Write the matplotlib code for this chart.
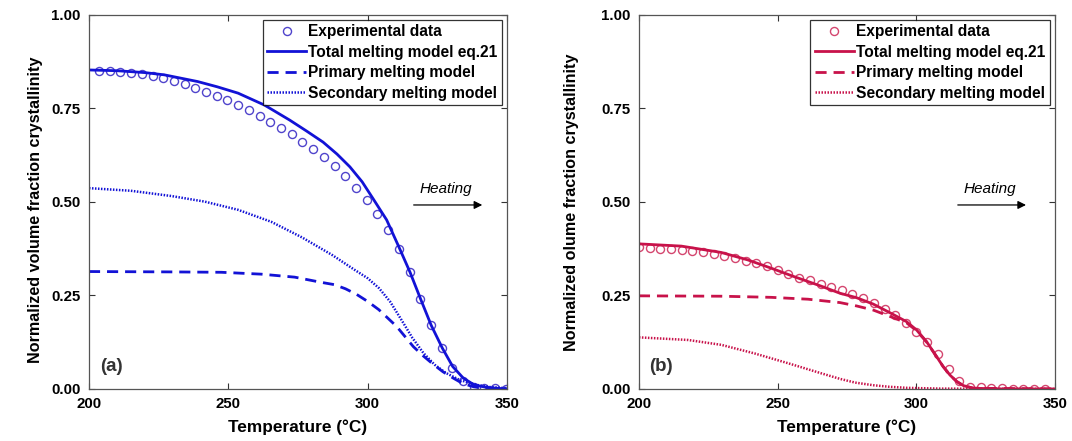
import matplotlib
matplotlib.use('Agg')
import matplotlib.pyplot as plt

plt.rcParams['font.family'] = ['Liberation Sans', 'DejaVu Sans']

# (a) experimental points and model curves
temp_a = [203.6, 207.5, 211.3, 215.1, 219.0, 222.8, 226.7, 230.5, 234.3, 238.2,
          242.0, 245.9, 249.7, 253.5, 257.4, 261.2, 265.1, 268.9, 272.7, 276.6,
          280.4, 284.3, 288.1, 291.9, 295.8, 299.6, 303.5, 307.3, 311.1, 315.0,
          318.8, 322.7, 326.5, 330.3, 334.2, 338.0, 341.9, 345.7, 349.6]
exp_a = [0.851, 0.850, 0.848, 0.846, 0.842, 0.837, 0.831, 0.824, 0.816, 0.806,
         0.795, 0.784, 0.773, 0.759, 0.746, 0.731, 0.715, 0.699, 0.681, 0.661,
         0.641, 0.620, 0.595, 0.570, 0.538, 0.504, 0.467, 0.425, 0.374, 0.314,
         0.241, 0.170, 0.109, 0.057, 0.021, 0.006, 0.003, 0.002, 0.000]

t_total_a = [200, 210, 220, 227, 239, 246, 253.5, 263, 272, 278, 284, 289, 293.6, 298,
             302, 306.8, 311.3, 315.2, 318.9, 322.8, 326.8, 330.5, 334.3, 338.2,
             342.1, 346, 350]
total_a = [0.853, 0.851, 0.846, 0.840, 0.822, 0.808, 0.791, 0.759, 0.719, 0.690,
           0.660, 0.628, 0.594, 0.554, 0.508, 0.452, 0.378, 0.312, 0.242, 0.170,
           0.109, 0.060, 0.029, 0.011, 0.005, 0.002, 0.0]

t_prim_a = [200, 230, 247.5, 261.8, 273.8, 283.4, 288, 292, 296, 300, 304, 310.4,
            316.4, 320, 323.5, 327, 330.7, 334, 337.9, 342, 350]
prim_a = [0.314, 0.313, 0.312, 0.307, 0.299, 0.285, 0.279, 0.268, 0.253, 0.234,
          0.212, 0.167, 0.113, 0.088, 0.066, 0.046, 0.029, 0.015, 0.006, 0.001, 0.0]

t_sec_a = [200, 215, 229.5, 241.5, 253.5, 265.4, 276.5, 287.3, 295, 300, 304, 308,
           312, 316, 320, 324, 328, 333, 339, 344, 350]
sec_a = [0.537, 0.530, 0.516, 0.501, 0.479, 0.447, 0.405, 0.358, 0.320, 0.296,
         0.270, 0.234, 0.186, 0.137, 0.096, 0.065, 0.043, 0.024, 0.011, 0.005, 0.002]

# (b) experimental points and model curves
temp_b = [200.0, 203.9, 207.7, 211.6, 215.4, 219.3, 223.1, 227.0, 230.8, 234.7,
          238.5, 242.4, 246.2, 250.1, 253.9, 257.8, 261.6, 265.5, 269.3, 273.2,
          277.0, 280.9, 284.7, 288.6, 292.4, 296.3, 300.1, 304.0, 307.8, 311.7,
          315.5, 319.4, 323.2, 327.1, 330.9, 334.8, 338.6, 342.5, 346.3]
exp_b = [0.380, 0.378, 0.375, 0.373, 0.371, 0.368, 0.365, 0.361, 0.356, 0.349,
         0.343, 0.336, 0.328, 0.317, 0.308, 0.298, 0.291, 0.282, 0.273, 0.264,
         0.253, 0.243, 0.229, 0.215, 0.198, 0.177, 0.153, 0.125, 0.093, 0.054,
         0.020, 0.006, 0.004, 0.002, 0.002, 0.001, 0.001, 0.001, 0.001]

t_total_b = [200, 215.3, 229.7, 239.3, 247.7, 256.1, 265.7, 272.5, 278.5, 284.5,
             290.5, 296.5, 300.1, 303.7, 307.4, 309.7, 312.2, 314.6, 317.0, 320.6, 330, 350]
total_b = [0.388, 0.382, 0.365, 0.345, 0.323, 0.300, 0.275, 0.256, 0.244, 0.227,
           0.204, 0.180, 0.158, 0.127, 0.086, 0.060, 0.037, 0.020, 0.009, 0.002, 0.0, 0.0]

t_prim_b = [200, 230, 247.7, 261, 272.5, 278.5, 284.5, 290.5, 296.5, 300.1, 303.7,
            307.4, 309.7, 312.2, 314.6, 317, 320.6, 350]
prim_b = [0.249, 0.248, 0.245, 0.240, 0.231, 0.222, 0.211, 0.194, 0.177, 0.156, 0.126,
          0.086, 0.060, 0.037, 0.020, 0.009, 0.002, 0.0]

t_sec_b = [200, 217.7, 229.7, 241.7, 253.7, 265.7, 272.5, 278, 284.5, 290, 296.5,
           308.5, 350]
sec_b = [0.138, 0.131, 0.118, 0.095, 0.069, 0.042, 0.027, 0.017, 0.010, 0.006,
         0.003, 0.001, 0.0]

xticks = [200, 250, 300, 350]
yticks = [0.0, 0.25, 0.5, 0.75, 1.0]

fig = plt.figure(figsize=(10.72, 4.41), dpi=100)
ax_a = fig.add_axes([0.083, 0.118, 0.390, 0.848])
ax_b = fig.add_axes([0.596, 0.118, 0.388, 0.848])

panels = [
    (ax_a, temp_a, exp_a, t_total_a, total_a, t_prim_a, prim_a, t_sec_a, sec_a,
     '#1212d6', '#5044cc', '(a)', 'Normalized volume fraction crystallinity',
     (-0.110, 0.479), 328.1, 315.5, 342.1),
    (ax_b, temp_b, exp_b, t_total_b, total_b, t_prim_b, prim_b, t_sec_b, sec_b,
     '#c8124a', '#d4466f', '(b)', 'Normalized olume fraction crystallinity',
     (-0.144, 0.50), 326.6, 314.0, 340.6),
]

for (ax, te, ye, tt, yt, tp, yp, ts, ys, col, mcol, tag, ylab, ypos, hx, ax0, ax1) in panels:
    ax.plot(te, ye, 'o', ms=5.8, mfc='none', mec=mcol, mew=1.0, label='Experimental data')
    ax.plot(tt, yt, '-', color=col, lw=2.0, label='Total melting model eq.21')
    ax.plot(tp, yp, '--', color=col, lw=2.0, dashes=(4, 2.5), label='Primary melting model')
    ax.plot(ts, ys, ':', color=col, lw=1.8, dashes=(0.6, 0.6), label='Secondary melting model')

    ax.set_xlim(200, 350)
    ax.set_ylim(0, 1)
    ax.set_xticks(xticks)
    ax.set_yticks(yticks)
    ax.set_yticklabels(['%.2f' % v for v in yticks])
    ax.tick_params(direction='in', top=True, right=True, length=4, width=0.8,
                   labelsize=10.8, pad=6, color='#333333')
    for lbl in ax.get_xticklabels() + ax.get_yticklabels():
        lbl.set_fontweight('bold')
    for sp in ax.spines.values():
        sp.set_color('#555555')
        sp.set_linewidth(0.9)

    ax.set_xlabel('Temperature (°C)', fontsize=12.4, fontweight='bold', labelpad=6)
    ax.set_ylabel(ylab, fontsize=11.6, fontweight='bold')
    ax.yaxis.set_label_coords(*ypos)

    ax.text(207.9, 0.061, tag, fontsize=13.5, fontweight='bold', ha='center', va='center',
            color='#333333')
    ax.text(hx, 0.535, 'Heating', fontsize=11, style='italic', ha='center', va='center')
    ax.annotate('', xy=(ax1, 0.492), xytext=(ax0, 0.492),
                arrowprops=dict(arrowstyle='-|>', color='black', lw=0.9,
                                mutation_scale=12))

    leg = ax.legend(loc='upper right', frameon=True, fancybox=False,
                    edgecolor='black', borderaxespad=0.3, handlelength=2.5,
                    handletextpad=0.15, labelspacing=0.35, borderpad=0.3,
                    prop={'weight': 'bold', 'size': 11.2})
    leg.get_frame().set_linewidth(0.9)

fig.savefig('out.png', dpi=100)
